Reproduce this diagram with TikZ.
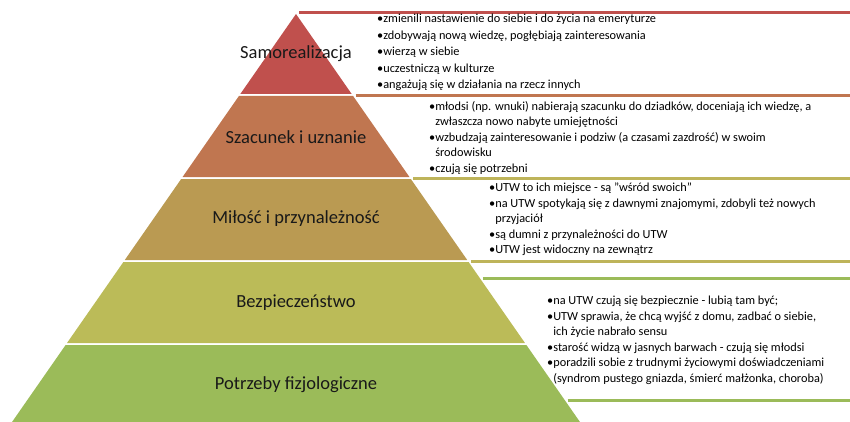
\documentclass[tikz,border=0pt]{standalone}
\usepackage{fontspec}
\setmainfont{Carlito}
\definecolor{pyrred}{RGB}{192, 80, 77}
\definecolor{pyrorange}{RGB}{192, 118, 80}
\definecolor{pyrtan}{RGB}{186, 154, 82}
\definecolor{pyrolive}{RGB}{187, 187, 88}
\definecolor{pyrgreen}{RGB}{155, 187, 89}
\definecolor{lineolive}{RGB}{190, 180, 90}
\usepackage{tikz}
\usetikzlibrary{positioning, calc}

\begin{document}
\begin{tikzpicture}[x=1pt,y=-1pt,
	level/.style={font=\fontsize{18.5}{22}\selectfont, text=black!90},
	bullets/.style={anchor=north west, align=left, inner sep=0pt, font=\fontsize{12.3}{15.5}\selectfont}]
			\clip (0,0) rectangle (850,422);
			% pyramid layers
			\foreach \t/\b/\c in {14/94/pyrred, 96/177/pyrorange, 179/260/pyrtan, 262/343/pyrolive, 345/430/pyrgreen}{
				\pgfmathsetmacro\wt{0.696*(\t-14)}
				\pgfmathsetmacro\wb{0.696*(\b-14)}
				\fill[\c] (296-\wt,\t) -- (296+\wt,\t) -- (296+\wb,\b) -- (296-\wb,\b) -- cycle;
			}
			% rules of the text boxes
			\foreach \y/\c in {12.5/pyrred, 95.5/pyrorange, 178/lineolive, 261/lineolive, 278/pyrgreen, 400/pyrgreen}{
				\pgfmathsetmacro\w{max(0,0.696*(\y-14))+3}
				\draw[\c, line width=3pt] (296+\w,\y) -- (850,\y);
			}
				
			\node[level] (samo) at (296,54) {Samorealizacja};
			\node[level] (szac) at (296,137) {Szacunek i uznanie};
			\node[level] (milo) at (296,219) {Miłość i przynależność};
			\node[level] (bezp) at (296,303) {Bezpieczeństwo};
			\node[level] (fizj) at (296,385) {Potrzeby fizjologiczne};
			
			\node[bullets, font=\fontsize{12.3}{16.5}\selectfont] (samotxt) at (377,14) {%
				•zmienili nastawienie do siebie i do życia na emeryturze\\
				•zdobywają nową wiedzę, pogłębiają zainteresowania\\
				•wierzą w siebie\\
				•uczestniczą w kulturze\\
				•angażują się w działania na rzecz innych};
			\node[bullets] (szactxt) at (429,101) {%
				•młodsi (np. wnuki) nabierają szacunku do dziadków, doceniają ich wiedzę, a\\
				\hphantom{•}zwłaszcza nowo nabyte umiejętności\\
				•wzbudzają zainteresowanie i podziw (a czasami zazdrość) w swoim\\
				\hphantom{•}środowisku\\
				•czują się potrzebni};
			\node[bullets] (milotxt) at (489,183) {%
				•UTW to ich miejsce - są "wśród swoich"\\
				•na UTW spotykają się z dawnymi znajomymi, zdobyli też nowych\\
				\hphantom{•}przyjaciół\\
				•są dumni z przynależności do UTW\\
				•UTW jest widoczny na zewnątrz};
			\node[bullets] (bezptxt) at (547,296) {%
				•na UTW czują się bezpiecznie - lubią tam być;\\
				•UTW sprawia, że chcą wyjść z domu, zadbać o siebie,\\
				\hphantom{•}ich życie nabrało sensu\\
				•starość widzą w jasnych barwach - czują się młodsi\\
				•poradzili sobie z trudnymi życiowymi doświadczeniami\\
				\hphantom{•}(syndrom pustego gniazda, śmierć małżonka, choroba)};
		\end{tikzpicture}
\end{document}
